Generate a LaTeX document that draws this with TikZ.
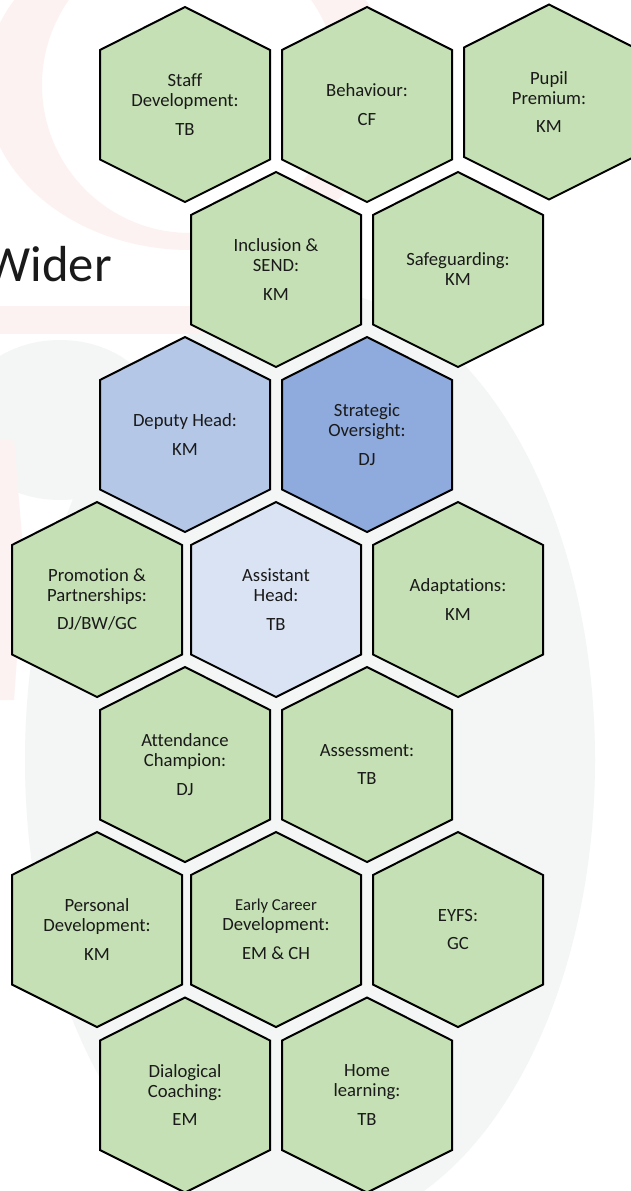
\documentclass[tikz,border=0pt]{standalone}
\usepackage{fontspec}
\setmainfont{Carlito}[Ligatures=NoCommon]

\definecolor{cellgreen}{HTML}{C5E0B4}
\definecolor{deputyblue}{HTML}{B4C7E7}
\definecolor{oversightblue}{HTML}{8FAADC}
\definecolor{assistantblue}{HTML}{DAE3F3}
\definecolor{markpink}{HTML}{FDF2F2}
\definecolor{markgrey}{HTML}{F4F6F5}
\definecolor{inktext}{HTML}{1A1A1A}

% one hexagon cell: [fill]{name}{centre}{text}
\newcommand{\hexcell}[4][cellgreen]{%
  \filldraw[hex line, fill=#1] #3 +(0,-97.5) -- +(85,-54.5) -- +(85,55) -- +(0,97.5) -- +(-85,55) -- +(-85,-54.5) -- cycle;
  \node[cell text] (#2) at #3 {#4};%
}

\begin{document}
\begin{tikzpicture}[x=0.75pt,y=-0.75pt,
  hex line/.style={draw=black,line width=1.5pt},
  cell text/.style={align=center,text=inktext,inner sep=0pt,font=\fontsize{14}{15}\selectfont}]
  \useasboundingbox (0,0) rectangle (631,1191);
  \clip (0,0) rectangle (631,1191);
  \fill[white] (0,0) rectangle (631,1191);

  % faint logo behind
  \fill[markgrey] (310,760) ellipse [x radius=285, y radius=470];
  \fill[markgrey] (60,420) ellipse [x radius=100, y radius=80];
  \fill[markpink, even odd rule] (190,85) ellipse [x radius=205, y radius=165] (190,85) circle [radius=148];
  \fill[markpink] (0,306) rectangle (330,334);
  \fill[markpink] (0,440) -- (14,440) -- (24,560) -- (14,700) -- (0,700) -- cycle;

  % top rows
  \hexcell{staff}{(185,104.5)}{Staff\\Development:\\[6.5pt]TB}
  \hexcell{behaviour}{(367,104.5)}{Behaviour:\\[6.5pt]CF}
  \hexcell{pupil}{(549,102)}{Pupil\\Premium:\\[6.5pt]KM}

  \hexcell{inclusion}{(276,269.5)}{Inclusion \&\\SEND:\\[6.5pt]KM}
  \hexcell{safeguarding}{(458,269.5)}{Safeguarding:\\KM}

  % leadership
  \hexcell[deputyblue]{deputy}{(185,434.5)}{Deputy Head:\\[6.5pt]KM}
  \hexcell[oversightblue]{oversight}{(367,434.5)}{Strategic\\Oversight:\\[6.5pt]DJ}

  \hexcell{promotion}{(97,599.5)}{Promotion \&\\Partnerships:\\[6.5pt]DJ/BW/GC}
  \hexcell[assistantblue]{assistant}{(276,599.5)}{Assistant\\Head:\\[6.5pt]TB}
  \hexcell{adaptations}{(458,599.5)}{Adaptations:\\[6.5pt]KM}

  % lower rows
  \hexcell{attendance}{(185,764.5)}{Attendance\\Champion:\\[6.5pt]DJ}
  \hexcell{assessment}{(367,764.5)}{Assessment:\\[6.5pt]TB}

  \hexcell{personal}{(97,929.5)}{Personal\\Development:\\[6.5pt]KM}
  \hexcell{career}{(276,929.5)}{\fontsize{12.5}{13.7}\selectfont Early Career\\Development:\\[6.5pt]EM \& CH}
  \hexcell{eyfs}{(458,929.5)}{EYFS:\\[6.5pt]GC}

  \hexcell{dialogical}{(185,1095)}{Dialogical\\Coaching:\\[6.5pt]EM}
  \hexcell{home}{(367,1095)}{Home\\learning:\\[6.5pt]TB}

  \node[anchor=base east, inner sep=0pt, text=inktext, font=\fontsize{38}{42}\selectfont] (wider) at (112,281) {Wider};
\end{tikzpicture}
\end{document}
